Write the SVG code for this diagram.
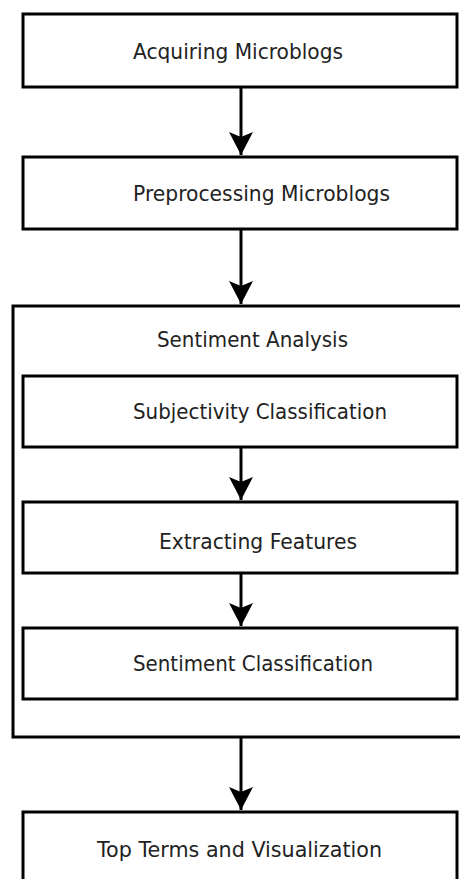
<svg xmlns="http://www.w3.org/2000/svg" width="460" height="879" viewBox="0 0 460 879">
<style>
.box{fill:#ffffff;stroke:#000000;stroke-width:3}
.lbl{font-family:"DejaVu Sans",Verdana,sans-serif;font-size:22px;fill:#222222}
.edge{stroke:#000000;stroke-width:3;fill:none}
</style>
<defs>
<marker id="arr" markerUnits="userSpaceOnUse" markerWidth="30" markerHeight="30" refX="23" refY="0" orient="auto" overflow="visible">
<path d="M0,-12 L23,0 L0,12 L5,0 Z" fill="#000000"/>
</marker>
</defs>
<rect width="460" height="879" fill="#ffffff"/>
<g id="sentiment-analysis">
<rect class="box" x="13" y="306" width="460" height="431"/>
<text class="lbl" x="157" y="347" textLength="191" lengthAdjust="spacingAndGlyphs">Sentiment Analysis</text>
</g>
<g id="acquiring">
<rect class="box" x="23" y="14" width="434" height="73"/>
<text class="lbl" x="133" y="58.5" textLength="210" lengthAdjust="spacingAndGlyphs">Acquiring Microblogs</text>
</g>
<g id="preprocessing">
<rect class="box" x="23" y="157" width="434" height="72"/>
<text class="lbl" x="133" y="200.5" textLength="257" lengthAdjust="spacingAndGlyphs">Preprocessing Microblogs</text>
</g>
<g id="subjectivity">
<rect class="box" x="23" y="376" width="434" height="71"/>
<text class="lbl" x="133" y="418.5" textLength="254" lengthAdjust="spacingAndGlyphs">Subjectivity Classification</text>
</g>
<g id="extracting">
<rect class="box" x="23" y="502" width="434" height="71"/>
<text class="lbl" x="159" y="548.5" textLength="198" lengthAdjust="spacingAndGlyphs">Extracting Features</text>
</g>
<g id="sentiment-classification">
<rect class="box" x="23" y="628" width="434" height="71"/>
<text class="lbl" x="133" y="671" textLength="240" lengthAdjust="spacingAndGlyphs">Sentiment Classification</text>
</g>
<g id="top-terms">
<rect class="box" x="23" y="812" width="434" height="90"/>
<text class="lbl" x="97" y="857" textLength="285" lengthAdjust="spacingAndGlyphs">Top Terms and Visualization</text>
</g>
<g id="connectors">
<line class="edge" x1="241" y1="88" x2="241" y2="155" marker-end="url(#arr)"/>
<line class="edge" x1="241" y1="230" x2="241" y2="304" marker-end="url(#arr)"/>
<line class="edge" x1="241" y1="448" x2="241" y2="500" marker-end="url(#arr)"/>
<line class="edge" x1="241" y1="574" x2="241" y2="626" marker-end="url(#arr)"/>
<line class="edge" x1="241" y1="738" x2="241" y2="810" marker-end="url(#arr)"/>
</g>
</svg>
